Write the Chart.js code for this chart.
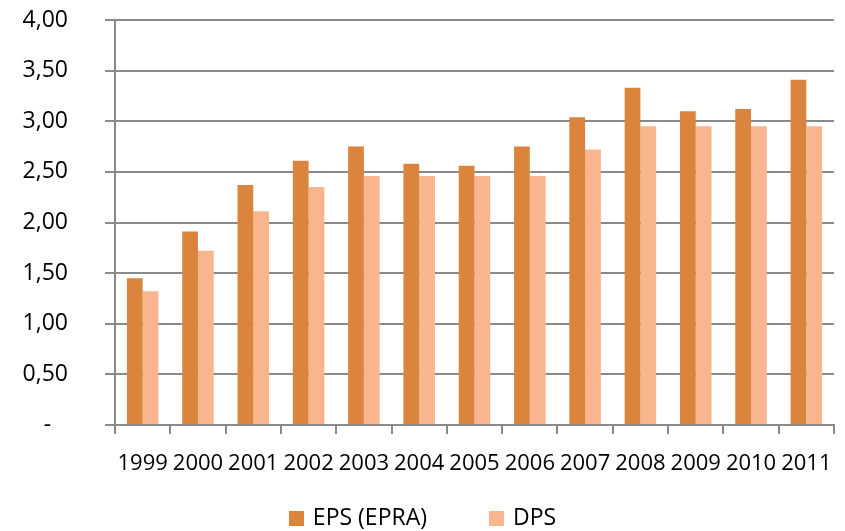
<!DOCTYPE html>
<html>
<head>
<meta charset="utf-8">
<script src="https://cdn.jsdelivr.net/npm/chart.js@4.4.1/dist/chart.umd.min.js"></script>
<style>
  html, body { margin: 0; padding: 0; background: #fff; }
  #wrap { width: 845px; height: 531px; position: relative; }
</style>
</head>
<body>
<div id="wrap"><canvas id="c" width="845" height="531"></canvas></div>
<script>
// Earnings and dividends per share, 1999–2011
const years = ['1999','2000','2001','2002','2003','2004','2005','2006','2007','2008','2009','2010','2011'];
const eps = [1.45, 1.91, 2.37, 2.61, 2.75, 2.58, 2.56, 2.75, 3.04, 3.33, 3.10, 3.12, 3.41];
const dps = [1.32, 1.72, 2.11, 2.35, 2.46, 2.46, 2.46, 2.46, 2.72, 2.95, 2.95, 2.95, 2.95];
const seriesNames = ['EPS (EPRA)', 'DPS'];
const seriesColors = ['#db843d', '#f8b58e'];

const FONT = 'Open Sans';
const GRID = '#8a8a8a';

// Bottom legend drawn by hand so the spacing between the two entries can be set freely
const bottomLegend = {
  id: 'bottomLegend',
  afterDraw(chart) {
    const ctx = chart.ctx;
    const box = 15, gap = 9, itemGap = 62;
    const cy = 518;
    ctx.save();
    ctx.font = '23px "' + FONT + '"';
    ctx.textBaseline = 'middle';
    ctx.textAlign = 'left';
    const widths = seriesNames.map(n => box + gap + ctx.measureText(n).width);
    const total = widths.reduce((a, b) => a + b, 0) + itemGap * (widths.length - 1);
    let x = (chart.width - total) / 2;
    chart.data.datasets.forEach((ds, i) => {
      ctx.fillStyle = ds.backgroundColor;
      ctx.fillRect(Math.round(x), Math.round(cy - box / 2), box, box);
      ctx.fillStyle = '#000';
      ctx.fillText(ds.label, x + box + gap, cy);
      x += widths[i] + itemGap;
    });
    ctx.restore();
  }
};

new Chart(document.getElementById('c'), {
  type: 'bar',
  data: {
    labels: years,
    datasets: seriesNames.map((name, i) => ({
      label: name,
      data: i === 0 ? eps : dps,
      backgroundColor: seriesColors[i],
      borderWidth: 0
    }))
  },
  plugins: [bottomLegend],
  options: {
    responsive: false,
    animation: false,
    devicePixelRatio: 1,
    layout: { padding: { top: 20, right: 11, left: 0, bottom: 50 } },
    datasets: { bar: { categoryPercentage: 0.57, barPercentage: 1.0 } },
    plugins: {
      tooltip: { enabled: false },
      legend: { display: false }
    },
    scales: {
      x: {
        afterFit: (s) => { s.height = 56; s.paddingLeft = 0; s.paddingRight = 0; },
        grid: {
          display: true,
          drawOnChartArea: false,
          drawTicks: true,
          tickLength: 9,
          color: GRID,
          lineWidth: 2,
          offset: true
        },
        border: { display: true, color: GRID, width: 2 },
        ticks: {
          autoSkip: false,
          maxRotation: 0,
          minRotation: 0,
          padding: 17,
          color: '#000',
          font: { family: FONT, size: 22 }
        }
      },
      y: {
        min: 0,
        max: 4,
        afterFit: (s) => { s.width = 115; s.paddingTop = 0; s.paddingBottom = 0; },
        grid: {
          color: GRID,
          lineWidth: 2,
          drawTicks: true,
          tickLength: 10
        },
        border: { display: true, color: GRID, width: 2 },
        ticks: {
          stepSize: 0.5,
          padding: 37,
          color: '#000',
          font: { family: FONT, size: 23 },
          callback: (v) => v === 0 ? '-\u2007\u2009' : v.toFixed(2).replace('.', ',')
        }
      }
    }
  }
});
</script>
</body>
</html>
